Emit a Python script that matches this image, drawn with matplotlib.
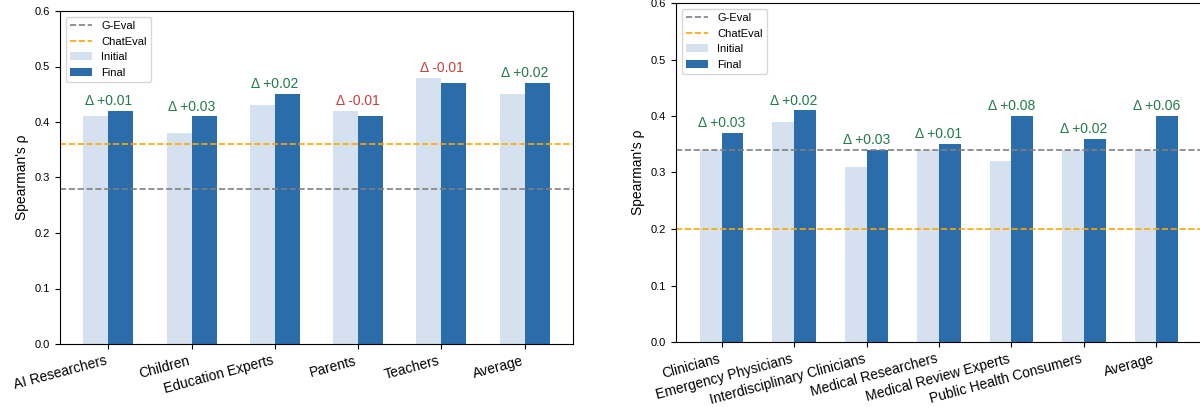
import numpy as np
import matplotlib
matplotlib.use("Agg")
import matplotlib.pyplot as plt

plt.rcParams["font.family"] = ["Liberation Sans", "DejaVu Sans"]

# left panel: education
edu_groups = ["AI Researchers", "Children", "Education Experts", "Parents", "Teachers", "Average"]
edu_initial = [0.41, 0.38, 0.43, 0.42, 0.48, 0.45]
edu_final = [0.42, 0.41, 0.45, 0.41, 0.47, 0.47]
edu_delta = [0.01, 0.03, 0.02, -0.01, -0.01, 0.02]
edu_geval = 0.28
edu_chateval = 0.36

# right panel: medical
med_groups = ["Clinicians", "Emergency Physicians", "Interdisciplinary Clinicians",
              "Medical Researchers", "Medical Review Experts", "Public Health Consumers", "Average"]
med_initial = [0.34, 0.39, 0.31, 0.34, 0.32, 0.34, 0.34]
med_final = [0.37, 0.41, 0.34, 0.35, 0.40, 0.36, 0.40]
med_delta = [0.03, 0.02, 0.03, 0.01, 0.08, 0.02, 0.06]
med_geval = 0.34
med_chateval = 0.20

C_INIT = "#d5e1ef"
C_FINAL = "#2b6cab"
C_UP = "#237a4b"
C_DOWN = "#c8403a"
W = 0.3


def panel(ax, groups, initial, final, delta, geval, chateval):
    x = np.arange(len(groups))
    ax.bar(x - W / 2, initial, W, color=C_INIT, label="Initial")
    ax.bar(x + W / 2, final, W, color=C_FINAL, label="Final")
    ax.axhline(geval, color="#808080", linestyle="--", linewidth=1.2, label="G-Eval")
    ax.axhline(chateval, color="#ffa500", linestyle="--", linewidth=1.2, label="ChatEval")
    for xi, a, b, d in zip(x, initial, final, delta):
        col = C_UP if d >= 0 else C_DOWN
        ax.text(xi, max(a, b) + 0.005, f"Δ {d:+.2f}", ha="center", va="bottom",
                fontsize=10, color=col)
    ax.set_ylim(0, 0.6)
    ax.set_xticks(x)
    ax.set_xticklabels(groups, rotation=15, ha="right", fontsize=10)
    ax.tick_params(axis="y", labelsize=8)
    ax.set_ylabel("Spearman's ρ", fontsize=10)
    h, l = ax.get_legend_handles_labels()
    order = [l.index(k) for k in ["G-Eval", "ChatEval", "Initial", "Final"]]
    ax.legend([h[i] for i in order], [l[i] for i in order], loc="upper left", fontsize=8)


fig = plt.figure(figsize=(12, 4.07), dpi=100)
ax1 = fig.add_axes([60 / 1200, 63 / 407, 513 / 1200, 333 / 407])
ax2 = fig.add_axes([676 / 1200, 65 / 407, 526 / 1200, 339 / 407])

panel(ax1, edu_groups, edu_initial, edu_final, edu_delta, edu_geval, edu_chateval)
panel(ax2, med_groups, med_initial, med_final, med_delta, med_geval, med_chateval)

fig.savefig("out.png", dpi=100)
